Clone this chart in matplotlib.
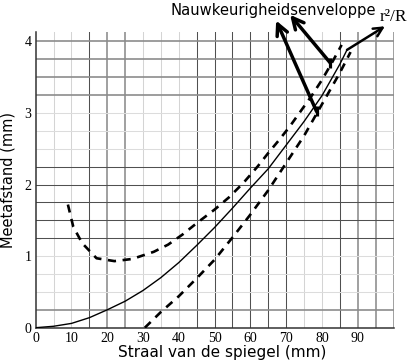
import matplotlib
matplotlib.use("Agg")
import matplotlib.pyplot as plt

# Data
r_x = [0, 5, 10, 15, 20, 25, 30, 35, 40, 45, 50, 55, 60, 65, 70, 75, 80, 85, 87]
r_y = [0, 0.02, 0.06, 0.14, 0.25, 0.37, 0.52, 0.70, 0.91, 1.15, 1.40, 1.67, 1.95, 2.22, 2.55, 2.88, 3.24, 3.68, 3.88]

up_x = [9, 10.5, 13, 17, 22, 27, 33, 37, 41, 45, 50, 54, 58, 62, 65, 68, 71, 74, 77, 80, 83, 85.5]
up_y = [1.72, 1.41, 1.18, 0.97, 0.93, 0.96, 1.06, 1.16, 1.30, 1.46, 1.65, 1.82, 2.02, 2.25, 2.44, 2.62, 2.81, 3.02, 3.23, 3.46, 3.72, 3.95]

lo_x = [30.5, 35, 40, 45, 50, 55, 60, 65, 70, 75, 80, 85, 88]
lo_y = [0.0, 0.22, 0.44, 0.69, 0.95, 1.26, 1.58, 1.92, 2.30, 2.68, 3.12, 3.56, 3.85]

x_ticks = [0, 10, 20, 30, 40, 50, 60, 70, 80, 90]
y_ticks = [0, 1, 2, 3, 4]

# envelope arrows: tail -> head
env_tails = [(78.5, 3.02), (82.3, 3.70)]
env_heads = [(67.2, 4.29), (71.1, 4.37)]
curve_tail = (87.0, 3.88)
curve_head = (97.6, 4.21)

# grid line classes
v_dark = [15, 45, 50, 55, 60, 65, 70, 85]
v_gray = [20, 25, 90, 95, 100]
v_light = [5, 10, 30, 35, 40, 75, 80]
h_dark = [1.25, 1.5, 1.75, 2.0, 2.25]
h_gray = [0.25, 3.25, 3.5, 3.75, 4.0]
h_light = [0.5, 0.75, 1.0, 2.5, 2.75, 3.0]

fig = plt.figure(figsize=(4.08, 3.6), dpi=100)
ax = fig.add_axes([35.7/408, 1-327.7/360, (393.5-35.7)/408, (327.7-32)/360])
ax.set_xlim(0, 100)
ax.set_ylim(0, 4.13)

for v in v_light:
    ax.axvline(v, color='#d4d4d4', lw=0.75, zorder=1)
for v in v_dark:
    ax.axvline(v, color='#505050', lw=0.75, zorder=1)
for v in v_gray:
    ax.axvline(v, color='#999999', lw=1.3, zorder=1)
for h in h_light:
    ax.axhline(h, color='#dcdcdc', lw=0.75, zorder=1)
for h in h_dark:
    ax.axhline(h, color='#505050', lw=0.75, zorder=1)
for h in h_gray:
    ax.axhline(h, color='#8c8c8c', lw=1.2, zorder=1)

ax.plot(r_x, r_y, color='black', lw=1.0, zorder=3)
ax.plot(up_x, up_y, color='black', lw=1.9, dashes=(3.1, 2.5), zorder=3)
ax.plot(lo_x, lo_y, color='black', lw=1.9, dashes=(3.1, 2.5), zorder=3)

for s in ['top', 'right']:
    ax.spines[s].set_visible(False)
ax.spines['left'].set_color('#333333')
ax.spines['bottom'].set_color('#333333')
ax.spines['left'].set_linewidth(1.1)
ax.spines['bottom'].set_linewidth(1.1)

ax.set_xticks(x_ticks)
ax.set_yticks(y_ticks)
ax.set_xticklabels([str(t) for t in x_ticks], family='Liberation Serif', fontsize=10)
ax.set_yticklabels([str(t) for t in y_ticks], family='Liberation Serif', fontsize=10)
ax.tick_params(length=0, pad=3)

fig.text(222/408, 1-352/360, 'Straal van de spiegel (mm)', ha='center', va='center', fontsize=11)
fig.text(8/408, 1-180/360, 'Meetafstand (mm)', ha='center', va='center', rotation=90, fontsize=10.5)

for tail, head in zip(env_tails, env_heads):
    ax.annotate('', xy=head, xytext=tail, xycoords='data',
                arrowprops=dict(arrowstyle='->', lw=2.5, color='black', shrinkA=0, shrinkB=0,
                                mutation_scale=20, clip_on=False),
                annotation_clip=False)
    ax.plot([tail[0]], [tail[1]], marker='|', ms=7, mew=2.3, color='black', zorder=5)
ax.annotate('', xy=curve_head, xytext=curve_tail, xycoords='data',
            arrowprops=dict(arrowstyle='->', lw=1.8, color='black', shrinkA=0, shrinkB=0,
                            mutation_scale=16, clip_on=False),
            annotation_clip=False)

fig.text(170/408, 1-10/360, 'Nauwkeurigheidsenveloppe', ha='left', va='center', fontsize=10.6)
fig.text(380/408, 1-17/360, 'r²/R', ha='left', va='center', family='Liberation Serif', fontsize=12.5)

fig.savefig('out.png', dpi=100)
